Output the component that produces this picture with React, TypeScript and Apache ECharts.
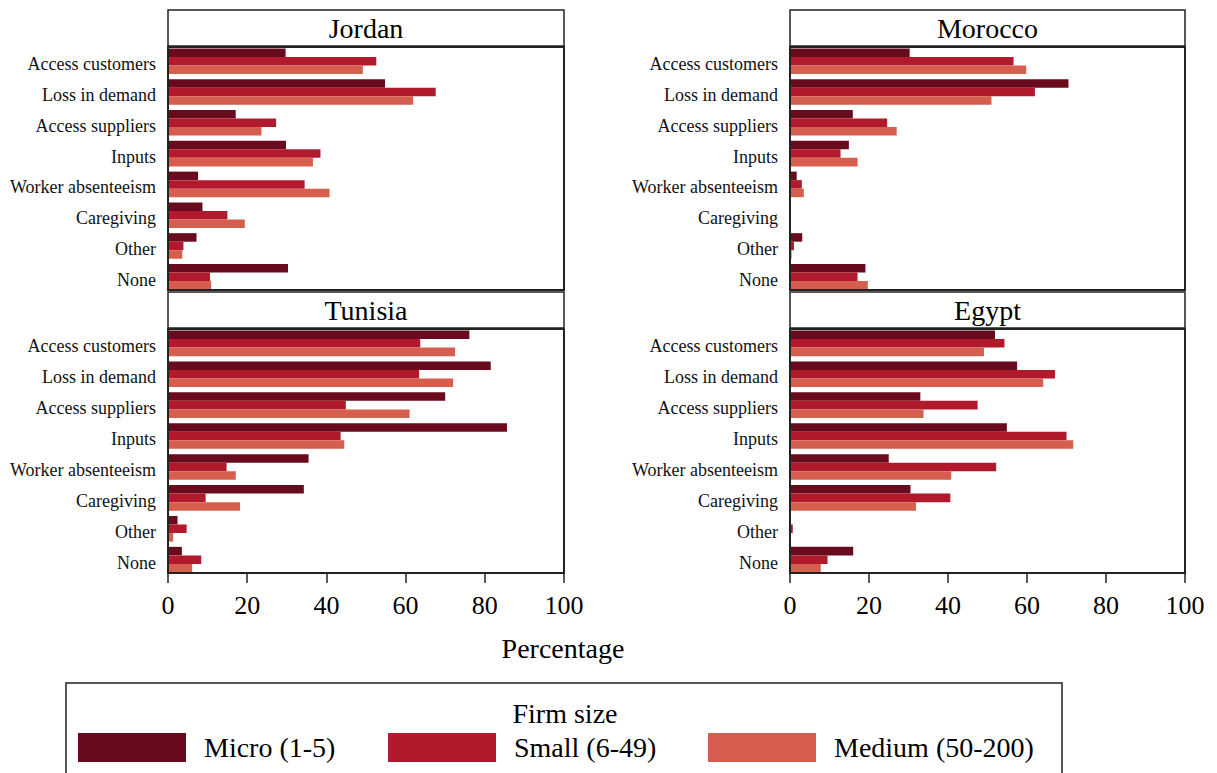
import React, { useEffect, useRef } from "react";
import * as echarts from "echarts";

const categories = [
  "Access customers",
  "Loss in demand",
  "Access suppliers",
  "Inputs",
  "Worker absenteeism",
  "Caregiving",
  "Other",
  "None",
];
const sizes = ["Micro (1-5)", "Small (6-49)", "Medium (50-200)"];
const countries = ["Jordan", "Morocco", "Tunisia", "Egypt"];
const xTicks = [0, 20, 40, 60, 80, 100];

const jordanMicro = [29.7, 54.8, 17.1, 29.8, 7.6, 8.7, 7.2, 30.3];
const jordanSmall = [52.6, 67.6, 27.3, 38.5, 34.5, 15.0, 3.9, 10.6];
const jordanMedium = [49.2, 61.9, 23.6, 36.6, 40.8, 19.4, 3.6, 10.9];

const moroccoMicro = [30.3, 70.5, 15.9, 14.9, 1.7, 0, 3.1, 19.1];
const moroccoSmall = [56.6, 62.0, 24.6, 12.8, 3.0, 0, 1.0, 17.1];
const moroccoMedium = [59.8, 51.0, 27.0, 17.1, 3.5, 0, 0.4, 19.7];

const tunisiaMicro = [76.1, 81.5, 70.0, 85.6, 35.5, 34.3, 2.4, 3.5];
const tunisiaSmall = [63.7, 63.4, 44.9, 43.6, 14.8, 9.5, 4.7, 8.4];
const tunisiaMedium = [72.5, 72.0, 61.0, 44.5, 17.1, 18.2, 1.3, 6.1];

const egyptMicro = [51.9, 57.5, 33.0, 54.9, 25.0, 30.5, 0, 16.0];
const egyptSmall = [54.3, 67.1, 47.5, 70.0, 52.2, 40.6, 0.7, 9.5];
const egyptMedium = [49.1, 64.1, 33.8, 71.7, 40.8, 31.9, 0, 7.8];

const countryData = [
  [jordanMicro, jordanSmall, jordanMedium],
  [moroccoMicro, moroccoSmall, moroccoMedium],
  [tunisiaMicro, tunisiaSmall, tunisiaMedium],
  [egyptMicro, egyptSmall, egyptMedium],
];

const colors = ["#670b1d", "#b1192c", "#d55e4e"];
const FONT = "'Liberation Serif', 'Times New Roman', serif";

// panel geometry
const panels = [
  { x: 168, w: 396, titleTop: 10, plotTop: 47, plotBottom: 290, showX: false },
  { x: 790, w: 395, titleTop: 10, plotTop: 47, plotBottom: 290, showX: false },
  { x: 168, w: 396, titleTop: 292, plotTop: 329, plotBottom: 573, showX: true },
  { x: 790, w: 395, titleTop: 292, plotTop: 329, plotBottom: 573, showX: true },
];

export default function App() {
  const ref = useRef<HTMLDivElement>(null);
  useEffect(() => {
    if (!ref.current) return;
    const chart = echarts.init(ref.current, undefined, { renderer: "svg" });

    const grids: any[] = [];
    const xAxes: any[] = [];
    const yAxes: any[] = [];
    const series: any[] = [];
    const graphics: any[] = [];

    panels.forEach((p, i) => {
      const inner = p.plotBottom - p.plotTop - 2;
      const band = inner / 7.83;
      const gridTop = p.plotTop + 1.5 - 0.085 * band;
      const gridH = band * 8;
      grids.push({ left: p.x, width: p.w, top: gridTop, height: gridH, containLabel: false });
      xAxes.push({
        gridIndex: i,
        type: "value",
        min: xTicks[0],
        max: xTicks[xTicks.length - 1],
        interval: 20,
        show: p.showX,
        offset: p.showX ? -(gridTop + gridH - p.plotBottom) : 0,
        axisLine: { show: false },
        axisTick: { show: true, length: 10, lineStyle: { color: "#222", width: 1.5 } },
        axisLabel: {
          show: true,
          fontSize: 26,
          fontFamily: FONT,
          color: "#000",
          margin: 12,
          formatter: "{t|{value}}",
          rich: { t: { fontSize: 26, fontFamily: FONT, color: "#000", padding: [7, 0, 0, 0] } },
        },
        splitLine: { show: false },
      });
      yAxes.push({
        gridIndex: i,
        type: "category",
        data: categories,
        inverse: true,
        axisLine: { show: false },
        axisTick: { show: false },
        axisLabel: {
          fontSize: 18,
          fontFamily: FONT,
          color: "#111",
          margin: 12,
          formatter: "{c|{value}}",
          rich: { c: { fontSize: 18, fontFamily: FONT, color: "#111", padding: [6, 0, 0, 0] } },
        },
        splitLine: { show: false },
      });
      countryData[i].forEach((vals, k) => {
        series.push({
          type: "bar",
          name: sizes[k],
          xAxisIndex: i,
          yAxisIndex: i,
          data: vals,
          barGap: "0%",
          barCategoryGap: "17%",
          itemStyle: { color: colors[k] },
        });
      });
      // title strip
      graphics.push({
        type: "rect",
        shape: { x: p.x, y: p.titleTop, width: p.w, height: p.plotTop - p.titleTop - 1 },
        style: { fill: "#fff", stroke: "#222", lineWidth: 1.5 },
        z: 0,
      });
      graphics.push({
        type: "text",
        x: p.x + p.w / 2,
        y: (p.titleTop + p.plotTop) / 2,
        style: {
          text: countries[i],
          fontSize: 28,
          fontFamily: FONT,
          fill: "#000",
          textAlign: "center",
          textVerticalAlign: "middle",
        },
      });
      // plot frame
      graphics.push({
        type: "rect",
        shape: { x: p.x, y: p.plotTop, width: p.w, height: p.plotBottom - p.plotTop },
        style: { fill: "none", stroke: "#222", lineWidth: 2 },
        z: 100,
      });
    });

    graphics.push({
      type: "text",
      x: 563,
      y: 648,
      style: {
        text: "Percentage",
        fontSize: 28,
        fontFamily: FONT,
        fill: "#000",
        textAlign: "center",
        textVerticalAlign: "middle",
      },
    });
    graphics.push({
      type: "rect",
      shape: { x: 66, y: 683, width: 996, height: 120 },
      style: { fill: "none", stroke: "#222", lineWidth: 1.5 },
    });
    graphics.push({
      type: "text",
      x: 565,
      y: 713,
      style: {
        text: "Firm size",
        fontSize: 28,
        fontFamily: FONT,
        fill: "#000",
        textAlign: "center",
        textVerticalAlign: "middle",
      },
    });

    const legendLefts = [78, 388, 708];
    const legends = sizes.map((s, k) => ({
      data: [s],
      left: legendLefts[k],
      top: 733,
      padding: 0,
      itemWidth: 108,
      itemHeight: 29,
      icon: "rect",
      selectedMode: false,
      textStyle: { fontSize: 28, fontFamily: FONT, color: "#000", padding: [0, 0, 0, 13] },
    }));

    chart.setOption({
      animation: false,
      backgroundColor: "#fff",
      grid: grids,
      xAxis: xAxes,
      yAxis: yAxes,
      series,
      legend: legends,
      graphic: graphics,
    });
    return () => chart.dispose();
  }, []);
  return (
    <div
      ref={ref}
      style={{ position: "fixed", left: 0, top: 0, width: 1217, height: 773 }}
    />
  );
}
